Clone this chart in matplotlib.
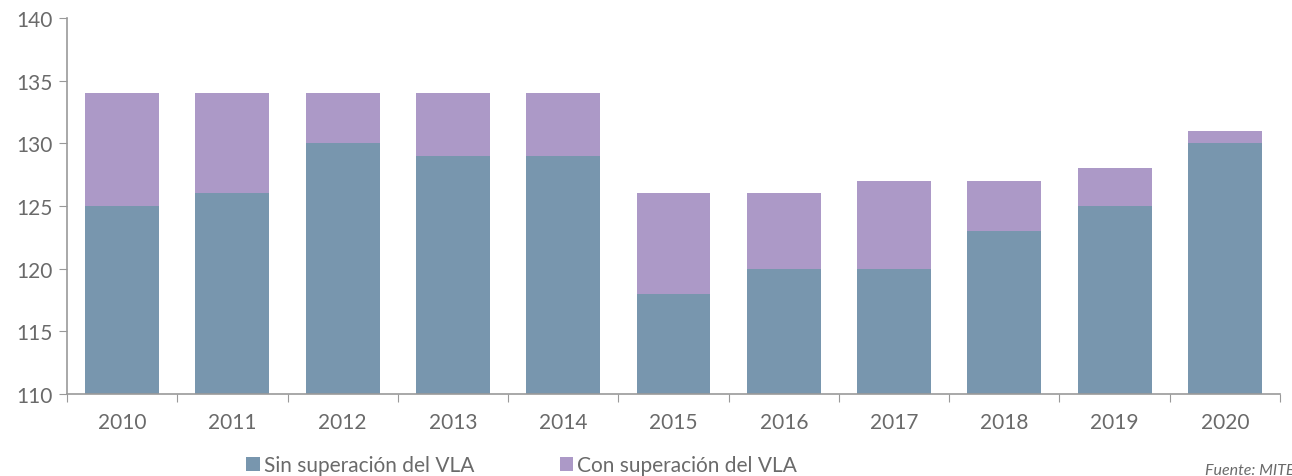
import matplotlib
matplotlib.use("Agg")
import matplotlib.pyplot as plt
import numpy as np

years = ["2010", "2011", "2012", "2013", "2014", "2015", "2016", "2017", "2018", "2019", "2020"]
sin_vla = [125, 126, 130, 129, 129, 118, 120, 120, 123, 125, 130]
con_vla = [9, 8, 4, 5, 5, 8, 6, 7, 4, 3, 1]
labels = ["Sin superación del VLA", "Con superación del VLA"]

plt.rcParams['font.family'] = ['Lato', 'DejaVu Sans']
text_color = '#6a6a6a'
c_blue = '#7896AE'
c_purple = '#AC99C7'

fig = plt.figure(figsize=(12.92, 4.77), dpi=100)
ax = fig.add_axes([67/1292, 1-395/477, (1280-67)/1292, (395-19)/477])

base = 110
x = np.arange(len(years))
sin_h = np.array(sin_vla) - base
ax.bar(x, sin_h, bottom=base, width=0.67, color=c_blue, label=labels[0])
ax.bar(x, con_vla, bottom=sin_vla, width=0.67, color=c_purple, label=labels[1])

ax.set_xlim(-0.5, len(years) - 0.5)
ax.set_ylim(110, 140)
ax.set_yticks(range(110, 141, 5))
ax.tick_params(axis='y', direction='out', length=6, color='#999999', labelsize=15, labelcolor=text_color, pad=4)

ax.set_xticks(np.arange(-0.5, len(years), 1.0))
ax.set_xticklabels([])
ax.tick_params(axis='x', which='major', direction='out', length=6, color='#999999')
ax.set_xticks(x, minor=True)
ax.set_xticklabels(years, minor=True)
ax.tick_params(axis='x', which='minor', length=0, labelsize=15, labelcolor=text_color, pad=13)

for s in ['top', 'right']:
    ax.spines[s].set_visible(False)
for s in ['left', 'bottom']:
    ax.spines[s].set_color('#999999')
    ax.spines[s].set_linewidth(1.2)

leg = fig.legend(loc='center left', bbox_to_anchor=(246/1292, 1-466/477), ncol=2, frameon=False,
                 fontsize=15, handlelength=0.65, handleheight=0.65, handletextpad=0.2,
                 columnspacing=4.1, borderaxespad=0, borderpad=0)
for t in leg.get_texts():
    t.set_color(text_color)

fig.text(1205/1292, 1-471/477, "Fuente: MITECO", fontsize=11.5, style='italic', color=text_color, va='center', ha='left')

fig.savefig("out.png", dpi=100)
